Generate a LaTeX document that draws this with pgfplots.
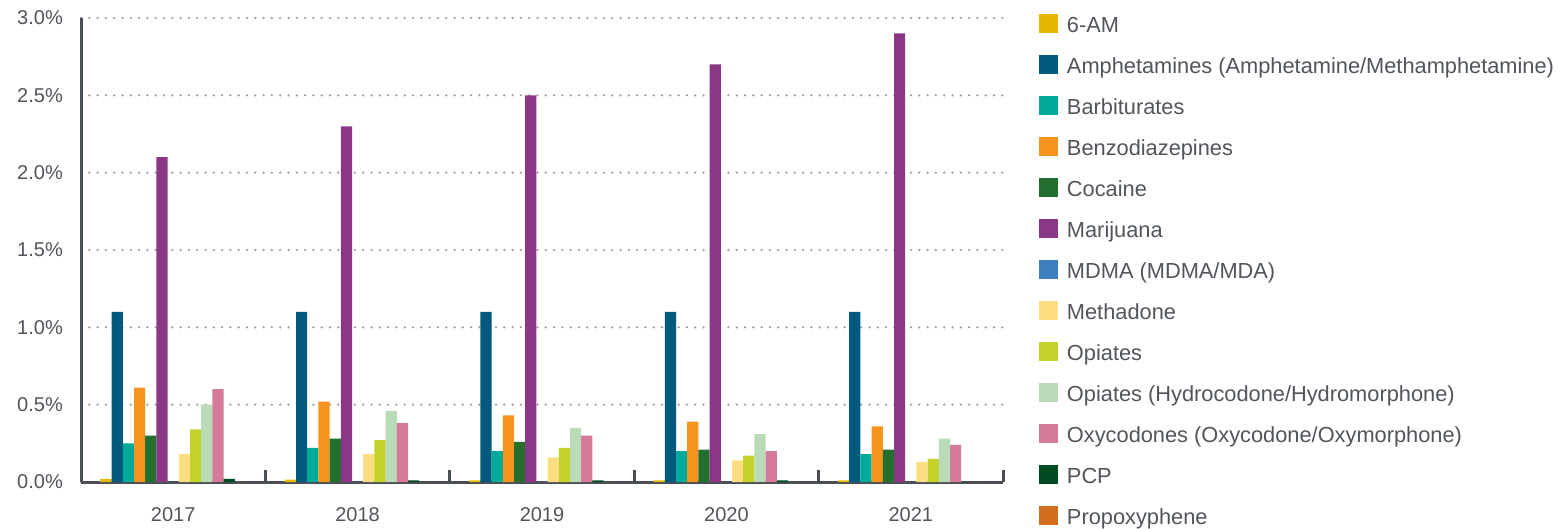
\documentclass[border=0pt]{standalone}
\usepackage{pgfplots}
\pgfplotsset{compat=1.18}
\usepackage{fontspec}
\setmainfont{Liberation Sans}

\definecolor{txt}{HTML}{50545B}
\definecolor{axln}{HTML}{4A4F57}
\definecolor{cSixAM}{HTML}{E5B700}
\definecolor{cAmph}{HTML}{005A7D}
\definecolor{cBarb}{HTML}{00AA9A}
\definecolor{cBenzo}{HTML}{F7941E}
\definecolor{cCoc}{HTML}{23702E}
\definecolor{cMari}{HTML}{8A3886}
\definecolor{cMDMA}{HTML}{3D7FBF}
\definecolor{cMeth}{HTML}{FDDD82}
\definecolor{cOpi}{HTML}{C2D22A}
\definecolor{cOpiH}{HTML}{BADBB8}
\definecolor{cOxy}{HTML}{D67A9A}
\definecolor{cPCP}{HTML}{004A22}
\definecolor{cProp}{HTML}{D26E1B}

\begin{document}
\begin{tikzpicture}
\path[use as bounding box] (0,0) rectangle (1558pt,528pt);
\begin{axis}[
    at={(81pt,46pt)}, anchor=south west,
    scale only axis, width=922pt, height=464pt,
    ybar=0pt, bar width=11.2pt,
    xmin=-0.5, xmax=4.5, ymin=0, ymax=3,
    axis x line=bottom, axis y line=left,
    axis line style={-, line width=3pt, color=axln},
    xtick={0,1,2,3,4}, xticklabels={2017,2018,2019,2020,2021},
    extra x ticks={0.5,1.5,2.5,3.5,4.5}, extra x tick labels={},
    extra x tick style={major tick length=12pt, tick style={line width=3pt, color=axln}},
    tick align=inside, major tick length=0pt,
    ytick={0,0.5,...,3},
    yticklabel={\pgfmathprintnumber[fixed,fixed zerofill,precision=1,assume math mode=true]{\tick}\%},
    yticklabel style={inner sep=0pt, xshift=-18pt},
    xticklabel style={inner sep=0pt, yshift=-25pt},
    tick label style={font=\fontsize{20}{24}\selectfont, text=txt},
    ymajorgrids,
    major grid style={draw=black!38, line width=2.5pt, line cap=round, dash pattern=on 0pt off 8.3pt},
    legend image code/.code={\fill[#1] (0pt,-6pt) rectangle (19pt,13pt);},
    legend cell align=left,
    legend style={at={(rel axis cs:1.039,1.0078)}, anchor=north west, draw=none, fill=none,
        inner sep=0pt, outer sep=0pt, row sep=18pt, column sep=9pt,
        font=\fontsize{21.8}{26}\selectfont, text=txt,
        nodes={inner sep=0pt, text height=15pt, text depth=5pt}},
]
\addplot[fill=cSixAM, draw=none] coordinates {(0,0.02) (1,0.015) (2,0.01) (3,0.01) (4,0.01)};
\addlegendentry{6-AM}
\addplot[fill=cAmph, draw=none] coordinates {(0,1.10) (1,1.10) (2,1.10) (3,1.10) (4,1.10)};
\addlegendentry{Amphetamines (Amphetamine/Methamphetamine)}
\addplot[fill=cBarb, draw=none] coordinates {(0,0.25) (1,0.22) (2,0.20) (3,0.20) (4,0.18)};
\addlegendentry{Barbiturates}
\addplot[fill=cBenzo, draw=none] coordinates {(0,0.61) (1,0.52) (2,0.43) (3,0.39) (4,0.36)};
\addlegendentry{Benzodiazepines}
\addplot[fill=cCoc, draw=none] coordinates {(0,0.30) (1,0.28) (2,0.26) (3,0.21) (4,0.21)};
\addlegendentry{Cocaine}
\addplot[fill=cMari, draw=none] coordinates {(0,2.1) (1,2.3) (2,2.5) (3,2.7) (4,2.9)};
\addlegendentry{Marijuana}
\addplot[fill=cMDMA, draw=none] coordinates {(0,0) (1,0) (2,0) (3,0) (4,0)};
\addlegendentry{MDMA (MDMA/MDA)}
\addplot[fill=cMeth, draw=none] coordinates {(0,0.18) (1,0.18) (2,0.16) (3,0.14) (4,0.13)};
\addlegendentry{Methadone}
\addplot[fill=cOpi, draw=none] coordinates {(0,0.34) (1,0.27) (2,0.22) (3,0.17) (4,0.15)};
\addlegendentry{Opiates}
\addplot[fill=cOpiH, draw=none] coordinates {(0,0.50) (1,0.46) (2,0.35) (3,0.31) (4,0.28)};
\addlegendentry{Opiates (Hydrocodone/Hydromorphone)}
\addplot[fill=cOxy, draw=none] coordinates {(0,0.60) (1,0.38) (2,0.30) (3,0.20) (4,0.24)};
\addlegendentry{Oxycodones (Oxycodone/Oxymorphone)}
\addplot[fill=cPCP, draw=none] coordinates {(0,0.02) (1,0.01) (2,0.01) (3,0.01) (4,0)};
\addlegendentry{PCP}
\addplot[fill=cProp, draw=none] coordinates {(0,0) (1,0) (2,0) (3,0) (4,0)};
\addlegendentry{Propoxyphene}
\end{axis}
\end{tikzpicture}
\end{document}
